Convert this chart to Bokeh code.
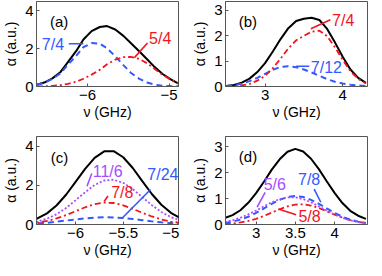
from bokeh.plotting import figure
from bokeh.layouts import column, row
from bokeh.models import Range1d, FixedTicker, Label
from bokeh.embed import file_html
from bokeh.resources import INLINE

# ---------------- data ----------------
# panel (a)
a_nu = [-6.62, -6.53, -6.43, -6.33, -6.24, -6.14, -6.05, -5.95, -5.85, -5.76,
        -5.66, -5.56, -5.47, -5.37, -5.27, -5.18, -5.08, -4.98, -4.89]
a_total = [0.10, 0.21, 0.43, 0.77, 1.29, 1.87, 2.49, 2.93, 3.15, 3.20,
           3.02, 2.68, 2.30, 1.88, 1.44, 1.04, 0.66, 0.38, 0.16]
a_7_4 = [0.09, 0.20, 0.40, 0.70, 1.15, 1.62, 2.08, 2.30, 2.27, 2.02,
         1.60, 1.13, 0.73, 0.42, 0.21, 0.10, 0.04, 0.02, 0.01]
a_5_4 = [0.01, 0.01, 0.03, 0.07, 0.14, 0.25, 0.41, 0.63, 0.88, 1.18,
         1.42, 1.55, 1.57, 1.46, 1.23, 0.94, 0.62, 0.36, 0.15]
a_xticks = [-6, -5]
a_yticks = [0, 2, 4]

# panel (b)
b_nu = [2.5, 2.6, 2.7, 2.8, 2.9, 3.0, 3.1, 3.2, 3.3, 3.4,
        3.5, 3.6, 3.7, 3.8, 3.9, 4.0, 4.1, 4.2, 4.3]
b_total = [0.02, 0.06, 0.15, 0.31, 0.57, 0.92, 1.38, 1.87, 2.30, 2.58,
           2.67, 2.71, 2.62, 2.27, 1.74, 1.17, 0.67, 0.34, 0.14]
b_7_12 = [0.02, 0.05, 0.11, 0.21, 0.34, 0.50, 0.66, 0.77, 0.80, 0.76,
          0.67, 0.55, 0.42, 0.29, 0.19, 0.12, 0.07, 0.04, 0.02]
b_7_4 = [0.00, 0.01, 0.04, 0.10, 0.23, 0.42, 0.72, 1.10, 1.50, 1.82,
         2.00, 2.16, 2.20, 1.98, 1.55, 1.05, 0.60, 0.30, 0.12]
b_xticks = [3, 4]
b_yticks = [0, 1, 2, 3]

# panel (c)
c_nu = [-6.5, -6.4, -6.3, -6.2, -6.1, -6.0, -5.9, -5.8, -5.7, -5.6,
        -5.5, -5.4, -5.3, -5.2, -5.1, -5.0, -4.9]
c_total = [0.15, 0.31, 0.57, 0.97, 1.52, 2.18, 2.84, 3.41, 3.74, 3.75,
           3.44, 2.89, 2.22, 1.56, 1.01, 0.60, 0.32]
c_11_6 = [0.07, 0.15, 0.30, 0.52, 0.84, 1.24, 1.65, 2.02, 2.25, 2.29,
          2.13, 1.81, 1.40, 0.99, 0.64, 0.38, 0.20]
c_7_8 = [0.05, 0.10, 0.18, 0.31, 0.48, 0.68, 0.88, 1.04, 1.12, 1.10,
         0.98, 0.80, 0.60, 0.41, 0.26, 0.15, 0.08]
c_7_24 = [0.03, 0.06, 0.09, 0.14, 0.20, 0.26, 0.31, 0.35, 0.37, 0.36,
          0.33, 0.28, 0.22, 0.16, 0.11, 0.07, 0.04]
c_xticks = [-6, -5.5, -5]
c_yticks = [0, 2, 4]

# panel (d)
d_nu = [2.6, 2.7, 2.8, 2.9, 3.0, 3.1, 3.2, 3.3, 3.4, 3.5,
        3.6, 3.7, 3.8, 3.9, 4.0, 4.1, 4.2, 4.3, 4.4]
d_total = [0.25, 0.36, 0.55, 0.84, 1.21, 1.65, 2.12, 2.52, 2.81, 2.92,
           2.82, 2.54, 2.14, 1.67, 1.22, 0.83, 0.53, 0.34, 0.22]
d_5_6 = [0.10, 0.16, 0.26, 0.39, 0.54, 0.70, 0.86, 0.98, 1.05, 1.05,
         0.98, 0.86, 0.70, 0.54, 0.39, 0.26, 0.16, 0.10, 0.05]
d_7_8 = [0.06, 0.11, 0.19, 0.30, 0.45, 0.62, 0.80, 0.95, 1.06, 1.10,
         1.06, 0.95, 0.80, 0.62, 0.45, 0.30, 0.19, 0.11, 0.06]
d_5_8 = [0.02, 0.04, 0.08, 0.14, 0.22, 0.33, 0.46, 0.59, 0.70, 0.77,
         0.78, 0.73, 0.64, 0.51, 0.38, 0.27, 0.17, 0.10, 0.06]
d_xticks = [3, 3.5, 4]
d_yticks = [0, 1, 2, 3]

# ---------------- style ----------------
FONT = "Liberation Sans"
BLACK = "#000000"
BLUE = "#3358ff"
RED = "#f2141e"
PURPLE = "#a64dff"
FRAME = "#555555"

STYLES = {
    "black": dict(line_color=BLACK, line_width=2.0),
    "blue": dict(line_color=BLUE, line_width=2.0, line_dash="6 4"),
    "red": dict(line_color=RED, line_width=1.8, line_dash="6 3 2 3"),
    "purple": dict(line_color=PURPLE, line_width=1.8, line_dash="2 2"),
}


def tick_text(t):
    s = f"{abs(t):g}"
    return "\u2212" + s if t < 0 else s


def make_fig(xr, yr, xt, yt, left, right, top, bottom, fh):
    p = figure(x_range=Range1d(*xr), y_range=Range1d(*yr),
               frame_width=142, frame_height=fh,
               min_border_left=left, min_border_right=right,
               min_border_top=top, min_border_bottom=bottom,
               output_backend="svg", toolbar_location=None, tools="")
    p.xgrid.visible = False
    p.ygrid.visible = False
    p.outline_line_color = FRAME
    p.outline_line_width = 1
    p.background_fill_color = "white"
    p.border_fill_color = "white"
    for ax in (p.xaxis[0], p.yaxis[0]):
        ax.axis_line_color = FRAME
        ax.major_tick_line_color = FRAME
        ax.major_tick_in = 3
        ax.major_tick_out = 0
        ax.minor_tick_line_color = None
        ax.major_label_text_font = FONT
        ax.major_label_text_font_size = "15px"
        ax.major_label_text_color = "black"
        ax.axis_label_text_font = FONT
        ax.axis_label_text_font_size = "14px"
        ax.axis_label_text_font_style = "normal"
        ax.axis_label_text_color = "black"
    p.xaxis.ticker = FixedTicker(ticks=xt)
    p.yaxis.ticker = FixedTicker(ticks=yt)
    p.xaxis.major_label_overrides = {t: tick_text(t) for t in xt}
    p.yaxis.major_label_overrides = {t: tick_text(t) for t in yt}
    p.xaxis.axis_label = "ν (GHz)"
    p.yaxis.axis_label = "α (a.u.)"
    p.xaxis.major_label_standoff = 3
    p.xaxis.axis_label_standoff = 1
    p.yaxis.major_label_standoff = 3
    p.yaxis.axis_label_standoff = 3
    return p


def add_label(p, x, y, text, color, size="16px"):
    p.add_layout(Label(x=x, y=y, text=text, text_color=color, text_font=FONT,
                       text_font_size=size, text_align="left",
                       text_baseline="middle"))


def add_leader(p, x0, y0, x1, y1, color):
    p.segment(x0=[x0], y0=[y0], x1=[x1], y1=[y1], line_color=color,
              line_width=1.6)


# ---- (a)
pa = make_fig((-6.625, -4.885), (0, 4.5), a_xticks, a_yticks, 33, 10, 1, 45, 85)
pa.line(a_nu, a_total, **STYLES["black"])
pa.line(a_nu, a_7_4, **STYLES["blue"])
pa.line(a_nu, a_5_4, **STYLES["red"])
add_label(pa, -6.46, 3.44, "(a)", BLACK, "15px")
add_label(pa, -6.56, 2.24, "7/4", BLUE)
add_leader(pa, -6.23, 2.26, -6.05, 2.26, BLUE)
add_label(pa, -5.245, 2.55, "5/4", RED)
add_leader(pa, -5.265, 2.3, -5.425, 1.53, RED)

# ---- (b)
pb = make_fig((2.49, 4.32), (0, 3.35), b_xticks, b_yticks, 37, 2, 1, 45, 85)
pb.line(b_nu, b_total, **STYLES["black"])
pb.line(b_nu, b_7_12, **STYLES["blue"])
pb.line(b_nu, b_7_4, **STYLES["red"])
add_label(pb, 2.66, 2.57, "(b)", BLACK, "15px")
add_label(pb, 3.864, 2.6, "7/4", RED)
add_leader(pb, 3.842, 2.63, 3.59, 2.28, RED)
add_label(pb, 3.59, 0.74, "7/12", BLUE)
add_leader(pb, 3.40, 0.8, 3.57, 0.8, BLUE)

# ---- (c)
pc = make_fig((-6.41, -4.92), (0, 4.5), c_xticks, c_yticks, 33, 10, 5, 36, 88)
pc.line(c_nu, c_total, **STYLES["black"])
pc.line(c_nu, c_7_24, **STYLES["blue"])
pc.line(c_nu, c_7_8, **STYLES["red"])
pc.line(c_nu, c_11_6, **STYLES["purple"])
add_label(pc, -6.26, 3.44, "(c)", BLACK, "15px")
add_label(pc, -5.82, 2.7, "11/6", PURPLE)
add_leader(pc, -5.83, 2.61, -5.88, 1.96, PURPLE)
add_label(pc, -5.626, 1.62, "7/8", RED)
add_leader(pc, -5.66, 1.46, -5.70, 1.18, RED)
add_label(pc, -5.247, 2.57, "7/24", BLUE)
add_leader(pc, -5.213, 1.79, -5.505, 0.36, BLUE)

# ---- (d)
pd = make_fig((2.61, 4.42), (0, 3.4), d_xticks, d_yticks, 37, 2, 5, 36, 88)
pd.line(d_nu, d_total, **STYLES["black"])
pd.line(d_nu, d_5_8, **STYLES["red"])
pd.line(d_nu, d_7_8, **STYLES["blue"])
pd.line(d_nu, d_5_6, **STYLES["purple"])
add_label(pd, 2.78, 2.62, "(d)", BLACK, "15px")
add_label(pd, 3.096, 1.53, "5/6", PURPLE)
add_leader(pd, 3.116, 1.24, 3.0125, 0.67, PURPLE)
add_label(pd, 3.534, 1.72, "7/8", BLUE)
add_leader(pd, 3.74, 1.37, 3.825, 0.86, BLUE)
add_label(pd, 3.54, 0.30, "5/8", RED)
add_leader(pd, 3.284, 0.60, 3.51, 0.38, RED)

layout = column(row(pa, pb), row(pc, pd))

open("out.html", "w").write(file_html(layout, INLINE))
